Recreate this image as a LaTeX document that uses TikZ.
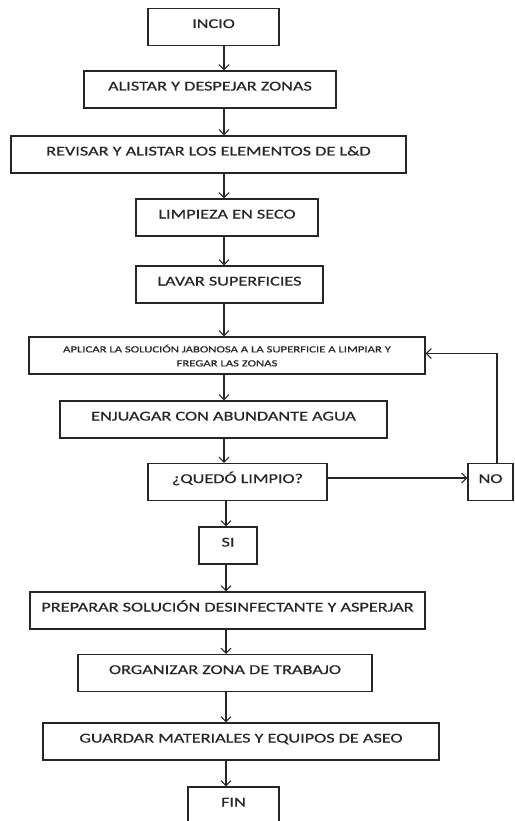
\documentclass[tikz,border=0pt]{standalone}
\usepackage{fontspec}
\usepackage{tikz}
\usetikzlibrary{arrows.meta,positioning}
\newfontfamily\flowfont[FakeStretch=1.35,FakeBold=0.6]{Carlito}

\begin{document}
\begin{tikzpicture}[
  x=1pt, y=-1pt,
  frame/.style={rectangle, draw=black!85, line width=1.1pt, minimum height=37pt, inner sep=0pt, text=black!85},
  box/.style={frame, font=\flowfont\fontsize{13.5}{16}\selectfont, text height=9pt, text depth=7pt},
  smallbox/.style={frame, align=center, font=\flowfont\fontsize{9.4}{14}\selectfont},
  arr/.style={-{Straight Barb[length=5pt,width=10pt]}, line width=1.1pt, black!85}
]
  \useasboundingbox (0,0) rectangle (514,821);

  \node[box, minimum width=131pt] (incio) at (213.5,27) {INCIO};
  \node[box, minimum width=252pt] (alistar) at (210,89.5) {ALISTAR Y DESPEJAR ZONAS};
  \node[box, minimum width=395pt] (revisar) at (208.5,154.5) {REVISAR Y ALISTAR LOS ELEMENTOS DE L\&D};
  \node[box, minimum width=182pt] (seco) at (227,217.5) {LIMPIEZA EN SECO};
  \node[box, minimum width=187pt] (lavar) at (229.5,284.5) {LAVAR SUPERFICIES};
  \node[smallbox, minimum width=396pt] (aplicar) at (227,355.5) {APLICAR LA SOLUCIÓN JABONOSA A LA SUPERFICIE A LIMPIAR Y\\FREGAR LAS ZONAS};
  \node[box, minimum width=327pt] (enjuagar) at (223.5,419.5) {ENJUAGAR CON ABUNDANTE AGUA};
  \node[box, minimum width=179pt] (quedo) at (237.5,482) {¿QUEDÓ LIMPIO?};
  \node[box, minimum width=45pt] (no) at (490.5,482) {NO};
  \node[box, minimum width=58pt] (si) at (228,545.5) {SI};
  \node[box, minimum width=395pt] (preparar) at (227.5,610.5) {PREPARAR SOLUCIÓN DESINFECTANTE Y ASPERJAR};
  \node[box, minimum width=294pt] (organizar) at (225,673) {ORGANIZAR ZONA DE TRABAJO};
  \node[box, minimum width=396pt] (guardar) at (241,741.5) {GUARDAR MATERIALES Y EQUIPOS DE ASEO};
  \node[box, minimum width=91pt] (fin) at (233.5,805.5) {FIN};

  % main line
  \coordinate (colA) at (224,0);
  \coordinate (colB) at (226,0);
  \coordinate (loop) at (497,0);
  \draw[arr] (incio.south -| colA) -- (alistar.north -| colA);
  \draw[arr] (alistar.south -| colA) -- (revisar.north -| colA);
  \draw[arr] (revisar.south -| colA) -- (seco.north -| colA);
  \draw[arr] (seco.south -| colA) -- (lavar.north -| colA);
  \draw[arr] (lavar.south -| colA) -- (aplicar.north -| colA);
  \draw[arr] (aplicar.south -| colA) -- (enjuagar.north -| colA);
  \draw[arr] (enjuagar.south -| colA) -- (quedo.north -| colA);
  \draw[arr] (quedo.south -| colB) -- (si.north -| colB);
  \draw[arr] (si.south -| colB) -- (preparar.north -| colB);
  \draw[arr] (preparar.south -| colB) -- (organizar.north -| colB);
  \draw[arr] (organizar.south -| colB) -- (guardar.north -| colB);
  \draw[arr] (guardar.south -| colB) -- (fin.north -| colB);

  % back loop
  \draw[arr] ([yshift=4pt]quedo.east) -- ([yshift=4pt]no.west);
  \draw[arr] (no.north -| loop) |- ([yshift=2pt]aplicar.east);
\end{tikzpicture}
\end{document}
